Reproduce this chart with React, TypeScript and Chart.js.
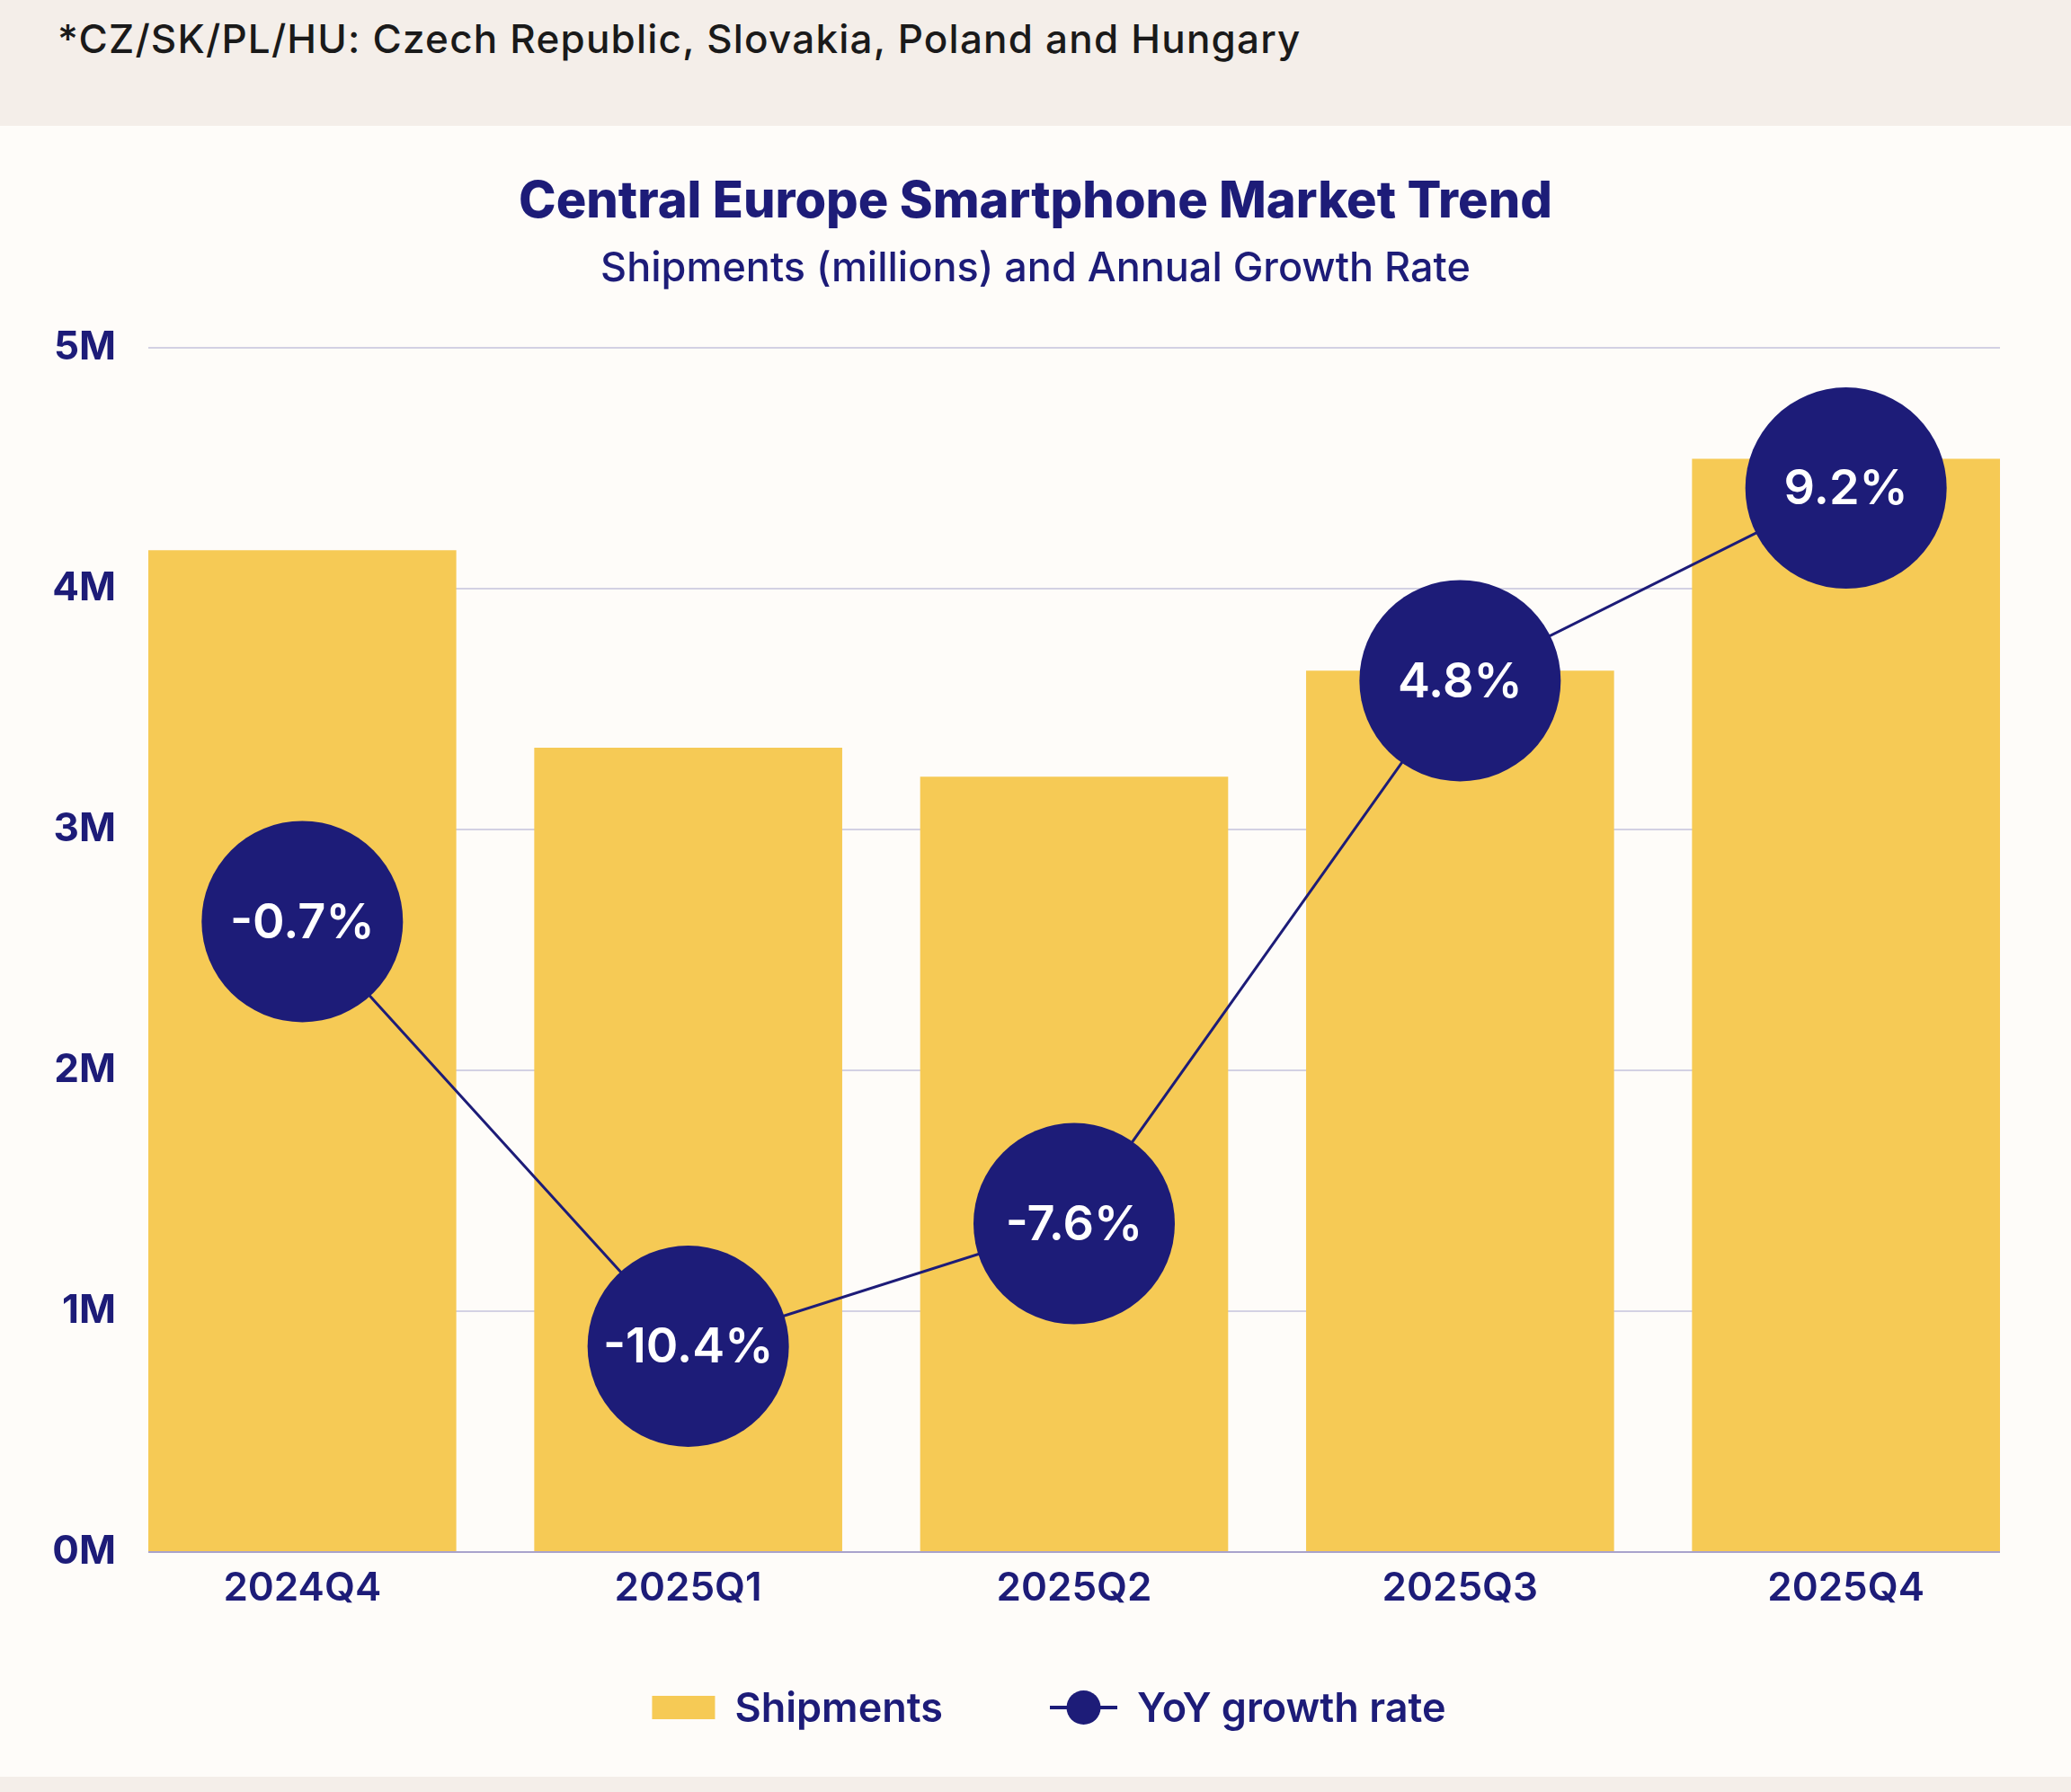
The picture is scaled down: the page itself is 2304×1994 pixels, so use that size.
import React, { useEffect, useRef } from "react";
import { Chart, registerables } from "chart.js";

Chart.register(...registerables);

const footnote = "*CZ/SK/PL/HU: Czech Republic, Slovakia, Poland and Hungary";
const titleText = "Central Europe Smartphone Market Trend";
const subtitleText = "Shipments (millions) and Annual Growth Rate";
const categories = ["2024Q4", "2025Q1", "2025Q2", "2025Q3", "2025Q4"];
const shipments = [4.16, 3.34, 3.22, 3.66, 4.54];
const yoyGrowth = [-0.7, -10.4, -7.6, 4.8, 9.2];
const yTickValues = [0, 1, 2, 3, 4, 5];
const seriesNames = ["Shipments", "YoY growth rate"];

const NAVY = "#1d1c78";
const GOLD = "#f6ca55";
const FONT = "Inter, 'Noto Sans', sans-serif";
const BAR_FRACTION = 0.798;
const X_EDGE = BAR_FRACTION / 2;

const pointLabelPlugin = {
  id: "pointLabels",
  afterDatasetsDraw(chart: any) {
    const meta = chart.getDatasetMeta(1);
    const ctx = chart.ctx;
    ctx.save();
    ctx.font = `600 54px ${FONT}`;
    ctx.fillStyle = "#ffffff";
    ctx.textAlign = "center";
    ctx.textBaseline = "middle";
    meta.data.forEach((pt: any, i: number) => {
      ctx.fillText(`${yoyGrowth[i].toFixed(1)}%`, pt.x, pt.y + 2);
    });
    ctx.restore();
  },
};

const customLegendPlugin = {
  id: "customLegend",
  afterDraw(chart: any) {
    const ctx = chart.ctx;
    ctx.save();
    ctx.font = `600 45px ${FONT}`;
    ctx.textBaseline = "middle";
    ctx.textAlign = "left";
    const boxW = 70;
    const lineW = 75;
    const textGap = 22;
    const itemGap = 119;
    const w1 = ctx.measureText(seriesNames[0]).width;
    const w2 = ctx.measureText(seriesNames[1]).width;
    const total = boxW + textGap + w1 + itemGap + lineW + textGap + w2;
    const cy = chart.height - 77;
    let x = chart.width / 2 + 15 - total / 2;
    ctx.fillStyle = GOLD;
    ctx.fillRect(x, cy - 13, boxW, 26);
    x += boxW + textGap;
    ctx.fillStyle = NAVY;
    ctx.fillText(seriesNames[0], x, cy + 2);
    x += w1 + itemGap;
    ctx.strokeStyle = NAVY;
    ctx.lineWidth = 4;
    ctx.beginPath();
    ctx.moveTo(x, cy);
    ctx.lineTo(x + lineW, cy);
    ctx.stroke();
    ctx.beginPath();
    ctx.arc(x + lineW / 2, cy, 19, 0, Math.PI * 2);
    ctx.fillStyle = NAVY;
    ctx.fill();
    x += lineW + textGap;
    ctx.fillText(seriesNames[1], x, cy + 2);
    ctx.restore();
  },
};

export default function App() {
  const canvasRef = useRef<HTMLCanvasElement | null>(null);

  useEffect(() => {
    document.body.style.margin = "0";
    const canvas = canvasRef.current;
    if (!canvas) return;
    const chart = new Chart(canvas, {
      type: "bar",
      data: {
        datasets: [
          {
            type: "bar",
            label: seriesNames[0],
            data: shipments.map((v, i) => ({ x: i, y: v })),
            backgroundColor: GOLD,
            borderWidth: 0,
            barPercentage: BAR_FRACTION,
            categoryPercentage: 1,
            yAxisID: "y",
            order: 2,
          } as any,
          {
            type: "line",
            label: seriesNames[1],
            data: yoyGrowth.map((v, i) => ({ x: i, y: v })),
            borderColor: NAVY,
            borderWidth: 3,
            pointRadius: 112,
            pointHoverRadius: 112,
            pointBackgroundColor: NAVY,
            pointBorderWidth: 0,
            tension: 0,
            yAxisID: "y1",
            order: 1,
            clip: false,
          } as any,
        ],
      },
      options: {
        responsive: false,
        animation: false,
        events: [],
        layout: { autoPadding: false, padding: { left: 0, right: 0, top: 0, bottom: 170 } },
        plugins: {
          legend: { display: false },
          tooltip: { enabled: false },
          title: {
            display: true,
            text: titleText,
            color: NAVY,
            font: { family: FONT, size: 56, weight: "800" as any, lineHeight: 1.2 },
            padding: { top: 52, bottom: 0 },
          },
          subtitle: {
            display: true,
            text: subtitleText,
            color: NAVY,
            font: { family: FONT, size: 45, weight: "500" as any, lineHeight: 1.2 },
            padding: { top: 13, bottom: 61 },
          },
        },
        scales: {
          x: {
            type: "linear",
            offset: false,
            bounds: "data",
            min: -X_EDGE,
            max: categories.length - 1 + X_EDGE,
            afterBuildTicks(scale: any) {
              scale.ticks = categories.map((_, i) => ({ value: i }));
            },
            grid: { display: false, offset: false },
            border: { display: false },
            ticks: {
              color: NAVY,
              font: { family: FONT, size: 44, weight: "600" as any, lineHeight: 1.2 },
              padding: 6,
              callback: (v: any) => categories[Math.round(Number(v))] ?? "",
            },
            afterFit(scale: any) {
              scale.height = 80;
            },
          },
          y: {
            position: "left",
            min: 0,
            max: 5,
            afterBuildTicks(scale: any) {
              scale.ticks = yTickValues.map((v) => ({ value: v }));
            },
            grid: {
              drawTicks: false,
              lineWidth: 2,
              color: (c: any) => (c.tick && c.tick.value === 0 ? "#a9a3cc" : "#d3d1e3"),
            },
            border: { display: false },
            ticks: {
              color: NAVY,
              font: { family: FONT, size: 44, weight: "700" as any, lineHeight: 1.2 },
              padding: 36,
              callback: (v: any) => `${v}M`,
            },
            afterFit(scale: any) {
              scale.width = 165;
            },
          },
          y1: {
            position: "right",
            min: -15.1,
            max: 12.4,
            grid: { display: false },
            border: { display: false },
            ticks: { display: false },
            afterFit(scale: any) {
              scale.width = 79;
            },
          },
        },
      } as any,
      plugins: [pointLabelPlugin, customLegendPlugin],
    });
    return () => chart.destroy();
  }, []);

  return (
    <div style={{ width: 2304, background: "#fefcf9", fontFamily: FONT }}>
      <div style={{ height: 140, background: "#f4eee9", boxSizing: "border-box", paddingTop: 17, paddingLeft: 64 }}>
        <div style={{ fontSize: 44, lineHeight: "52px", color: "#1a1a1a", fontWeight: 500, letterSpacing: "1.2px", whiteSpace: "nowrap" }}>{footnote}</div>
      </div>
      <canvas ref={canvasRef} width={2304} height={1837} style={{ display: "block", width: 2304, height: 1837 }} />
      <div style={{ height: 17, background: "#f4eee9" }} />
    </div>
  );
}
